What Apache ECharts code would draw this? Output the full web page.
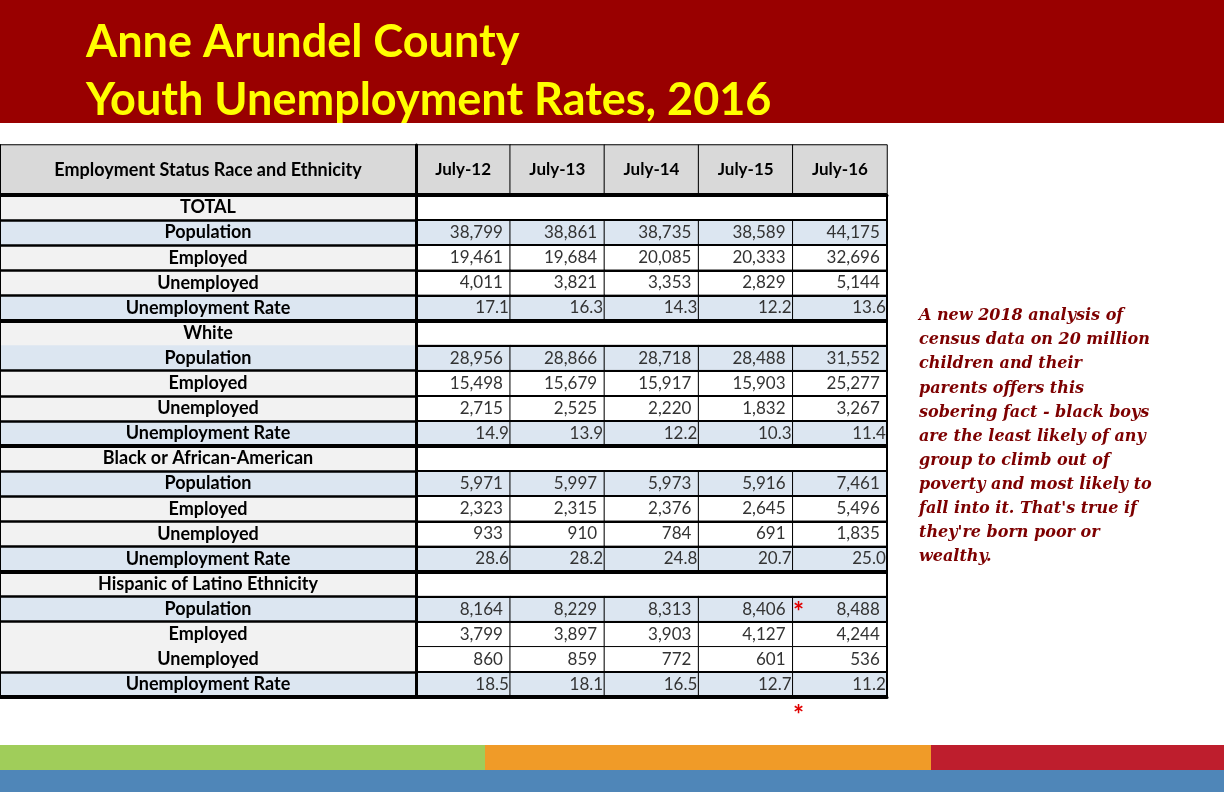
<!DOCTYPE html>
<html>
<head>
<meta charset="utf-8">
<title>Anne Arundel County Youth Unemployment Rates, 2016</title>
<script src="https://cdn.jsdelivr.net/npm/echarts@6.0.0/dist/echarts.min.js"></script>
<style>
  html, body { margin: 0; padding: 0; background: #fff; }
  #chart { width: 1224px; height: 792px; }
</style>
</head>
<body>
<div id="chart"></div>
<script>
// table columns and rows
const months = ['July-12', 'July-13', 'July-14', 'July-15', 'July-16'];
const groups = ['TOTAL', 'White', 'Black or African-American', 'Hispanic of Latino Ethnicity'];
const measures = ['Population', 'Employed', 'Unemployed', 'Unemployment Rate'];
const headerLabel = 'Employment Status Race and Ethnicity';

// TOTAL
const totalPopulation = [38799, 38861, 38735, 38589, 44175];
const totalEmployed = [19461, 19684, 20085, 20333, 32696];
const totalUnemployed = [4011, 3821, 3353, 2829, 5144];
const totalRate = [17.1, 16.3, 14.3, 12.2, 13.6];

// White
const whitePopulation = [28956, 28866, 28718, 28488, 31552];
const whiteEmployed = [15498, 15679, 15917, 15903, 25277];
const whiteUnemployed = [2715, 2525, 2220, 1832, 3267];
const whiteRate = [14.9, 13.9, 12.2, 10.3, 11.4];

// Black or African-American
const blackPopulation = [5971, 5997, 5973, 5916, 7461];
const blackEmployed = [2323, 2315, 2376, 2645, 5496];
const blackUnemployed = [933, 910, 784, 691, 1835];
const blackRate = [28.6, 28.2, 24.8, 20.7, 25.0];

// Hispanic
const hispanicPopulation = [8164, 8229, 8313, 8406, 8488];
const hispanicEmployed = [3799, 3897, 3903, 4127, 4244];
const hispanicUnemployed = [860, 859, 772, 601, 536];
const hispanicRate = [18.5, 18.1, 16.5, 12.7, 11.2];

const noteLines = [
  'A new 2018 analysis of',
  'census data on 20 million',
  'children and their',
  'parents offers this',
  'sobering fact - black boys',
  'are the least likely of any',
  'group to climb out of',
  'poverty and most likely to',
  "fall into it. That's true if",
  "they're born poor or",
  'wealthy.'
];

const groupValues = [
  [totalPopulation, totalEmployed, totalUnemployed, totalRate],
  [whitePopulation, whiteEmployed, whiteUnemployed, whiteRate],
  [blackPopulation, blackEmployed, blackUnemployed, blackRate],
  [hispanicPopulation, hispanicEmployed, hispanicUnemployed, hispanicRate]
];

const BLUE = '#dce6f1';
const GREY = '#f2f2f2';
const FONT = 'Lato';

// build rows: section title then the four measures
const rowLabels = [];
const rowMeasure = []; // -1 for section rows
groups.forEach(g => {
  rowLabels.push(g);
  rowMeasure.push(-1);
  measures.forEach((m, mi) => {
    rowLabels.push(m);
    rowMeasure.push(mi);
  });
});
const isBlue = r => rowMeasure[r] === 0 || rowMeasure[r] === 3;

const labelCells = rowLabels.map((name, r) => ({
  value: [0, r, 0],
  itemStyle: { color: isBlue(r) ? BLUE : GREY }
}));

const valueCells = [];
groupValues.forEach((gv, gi) => {
  gv.forEach((series, mi) => {
    const r = gi * 5 + 1 + mi;
    series.forEach((v, c) => {
      valueCells.push({
        value: [c, r, v],
        itemStyle: { color: isBlue(r) ? BLUE : '#ffffff' },
        label: { distance: mi === 3 ? 2 : 8 }
      });
    });
  });
});

const fmtValue = (v, r) =>
  rowMeasure[r] === 3 ? v.toFixed(1) : v.toLocaleString('en-US');

// hide skipped row borders (White->Population, Hispanic Employed->Unemployed)
const noLineLabel = [6, 18];
const noLineData = [18];

const hiddenAxis = (extra) => Object.assign({
  axisLabel: { show: false },
  axisTick: { show: false },
  axisLine: { show: false },
  splitLine: { show: false },
  z: 10
}, extra);

const line = (w) => ({ show: true, lineStyle: { color: '#000', width: w } });

const chart = echarts.init(document.getElementById('chart'));

const option = {
  animation: false,
  title: {
    text: 'Anne Arundel County\nYouth Unemployment Rates, 2016',
    left: 81,
    top: 8,
    textStyle: {
      color: '#ffff00',
      fontFamily: FONT,
      fontWeight: 'bold',
      fontSize: 45,
      lineHeight: 58
    }
  },
  grid: [
    { left: 0, top: 195, width: 416, height: 502, outerBoundsMode: 'none' },
    { left: 416, top: 195, width: 471, height: 502, outerBoundsMode: 'none' },
    { left: 0, top: 145, width: 416, height: 50, outerBoundsMode: 'none' },
    { left: 416, top: 145, width: 471, height: 50, outerBoundsMode: 'none' }
  ],
  xAxis: [
    hiddenAxis({ type: 'category', gridIndex: 0, data: [headerLabel], axisLine: line(3) }),
    hiddenAxis({ type: 'category', gridIndex: 1, data: months, axisLine: line(3) }),
    hiddenAxis({ type: 'category', gridIndex: 2, data: [headerLabel], axisLine: line(3) }),
    hiddenAxis({ type: 'category', gridIndex: 3, data: months, axisLine: line(3) })
  ],
  yAxis: [
    // label column rows
    hiddenAxis({
      type: 'category', gridIndex: 0, data: rowLabels, inverse: true,
      axisLine: line(2),
      splitLine: {
        show: true,
        interval: (i) => noLineLabel.indexOf(i) < 0,
        lineStyle: { color: '#000', width: 2.5 }
      }
    }),
    // label column sections
    hiddenAxis({
      type: 'category', gridIndex: 0, data: groups, inverse: true, position: 'right',
      axisLine: line(3),
      splitLine: { show: true, lineStyle: { color: '#000', width: 4 } }
    }),
    // value rows
    hiddenAxis({
      type: 'category', gridIndex: 1, data: rowLabels, inverse: true,
      axisLine: line(3),
      splitLine: {
        show: true,
        interval: (i) => noLineData.indexOf(i) < 0,
        lineStyle: { color: '#000', width: 2 }
      }
    }),
    // value sections
    hiddenAxis({
      type: 'category', gridIndex: 1, data: groups, inverse: true, position: 'right',
      axisLine: line(2),
      splitLine: { show: true, lineStyle: { color: '#000', width: 4 } }
    }),
    hiddenAxis({ type: 'category', gridIndex: 2, data: ['header'], axisLine: line(2) }),
    hiddenAxis({ type: 'category', gridIndex: 3, data: ['header'], axisLine: line(3) })
  ],
  series: [
    {
      type: 'heatmap',
      xAxisIndex: 0,
      yAxisIndex: 0,
      data: labelCells,
      itemStyle: { borderWidth: 0 },
      label: {
        show: true,
        color: '#000',
        fontFamily: FONT,
        fontWeight: 'bold',
        fontSize: 18,
        formatter: (p) => rowLabels[p.value[1]]
      },
      emphasis: { disabled: true }
    },
    {
      type: 'heatmap',
      xAxisIndex: 1,
      yAxisIndex: 2,
      data: valueCells,
      itemStyle: { borderColor: '#000', borderWidth: 1 },
      label: {
        show: true,
        position: 'insideRight',
        color: '#333',
        fontFamily: FONT,
        fontSize: 17,
        formatter: (p) => fmtValue(p.value[2], p.value[1])
      },
      emphasis: { disabled: true }
    },
    {
      type: 'heatmap',
      xAxisIndex: 2,
      yAxisIndex: 4,
      data: [[0, 0, 0]],
      itemStyle: { color: '#d9d9d9', borderColor: '#000', borderWidth: 1 },
      label: {
        show: true,
        color: '#000',
        fontFamily: FONT,
        fontWeight: 'bold',
        fontSize: 18,
        formatter: () => headerLabel
      },
      emphasis: { disabled: true }
    },
    {
      type: 'heatmap',
      xAxisIndex: 3,
      yAxisIndex: 5,
      data: months.map((m, c) => [c, 0, 0]),
      itemStyle: { color: '#d9d9d9', borderColor: '#000', borderWidth: 1 },
      label: {
        show: true,
        color: '#000',
        fontFamily: FONT,
        fontWeight: 'bold',
        fontSize: 17,
        formatter: (p) => months[p.value[0]]
      },
      emphasis: { disabled: true }
    }
  ],
  graphic: [
    // title band
    { type: 'rect', z: -10, shape: { x: 0, y: 0, width: 1224, height: 123 }, style: { fill: '#990000' } },
    // footer stripes
    { type: 'rect', shape: { x: 0, y: 745, width: 485, height: 25 }, style: { fill: '#a0cd5a' } },
    { type: 'rect', shape: { x: 485, y: 745, width: 446, height: 25 }, style: { fill: '#f09b28' } },
    { type: 'rect', shape: { x: 931, y: 745, width: 293, height: 25 }, style: { fill: '#be1e2d' } },
    { type: 'rect', shape: { x: 0, y: 770, width: 1224, height: 22 }, style: { fill: '#4f86b8' } },
    // side note
    {
      type: 'text',
      x: 919,
      y: 304,
      style: {
        text: noteLines.join('\n'),
        fill: '#7d0000',
        fontFamily: 'DejaVu Serif',
        fontStyle: 'italic',
        fontWeight: 'bold',
        fontSize: 16,
        lineHeight: 24.1
      }
    },
    // asterisks
    { type: 'text', x: 793, y: 600, z: 20, style: { text: '*', fill: '#e00000', fontFamily: FONT, fontWeight: 'bold', fontSize: 26 } },
    { type: 'text', x: 793, y: 703, z: 20, style: { text: '*', fill: '#e00000', fontFamily: FONT, fontWeight: 'bold', fontSize: 26 } }
  ]
};

chart.setOption(option);
</script>
</body>
</html>
